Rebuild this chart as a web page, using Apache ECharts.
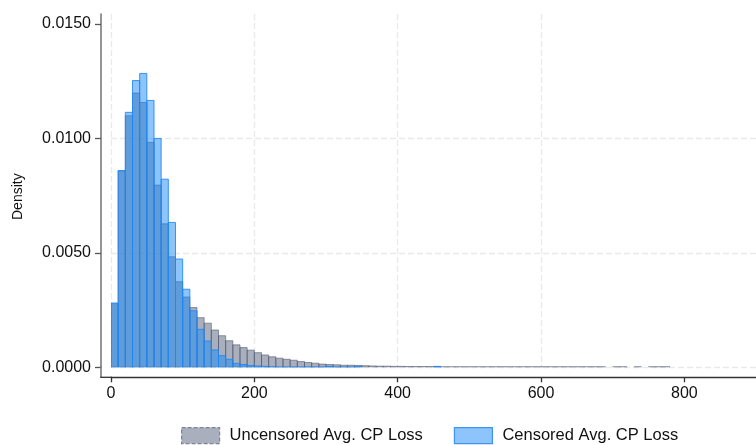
<!DOCTYPE html>
<html>
<head>
<meta charset="utf-8">
<script src="https://cdn.jsdelivr.net/npm/echarts@6/dist/echarts.min.js"></script>
<style>
html,body{margin:0;padding:0;background:#fff;}
#chart{width:756px;height:445px;}
</style>
</head>
<body>
<div id="chart"></div>
<script>
// ---- data ----
const binWidth = 10;
const binStarts = [
  0,10,20,30,40,50,60,70,80,90,100,110,120,130,140,150,160,170,180,190,
  200,210,220,230,240,250,260,270,280,290,300,310,320,330,340,350,360,370,380,390,
  400,410,420,430,440,450,460,470,480,490,500,510,520,530,540,550,560,570,580,590,
  600,610,620,630,640,650,660,670,680,690,700,710,720,730,740,750,760,770
];
const uncensored = [
  0.00278,0.00858,0.01099,0.01198,0.01157,0.00983,0.00796,0.00627,0.00483,0.00374,
  0.00307,0.00261,0.00217,0.00193,0.00163,0.00138,0.00116,0.00098,0.00086,0.00075,
  0.00064,0.00054,0.00046,0.00040,0.00035,0.00031,0.00025,0.00021,0.00018,0.00014,
  0.00012,0.00011,0.00009,0.00009,0.00008,0.00007,0.00006,0.00005,0.00005,0.00004,
  0.00004,0.00003,0.00003,0.00003,0.00003,0.00003,0.00002,0.00002,0.00002,0.00002,
  0.00002,0.00002,0.00002,0.00002,0.00002,0.00002,0.00002,0.00002,0.00002,0.00002,
  0.00002,0.00002,0.00002,0.00002,0.00002,0.00002,0.00002,0.00002,0.00002,0,
  0.00002,0.00002,0,0.00002,0,0.00002,0.00002,0.00002
];
const censored = [
  0.00281,0.00860,0.01114,0.01253,0.01284,0.01166,0.01000,0.00822,0.00633,0.00473,
  0.00341,0.00247,0.00166,0.00115,0.00076,0.00051,0.00035,0.00017,0.00012,0.00008,
  0.00006,0.00004,0.00002,0.00001,0.00001,0.00001,0.00001,0.00001,0.00001,0.00001,
  0.00004,0.00001,0.00001,0.00001,0.00004,0,0,0,0,0,
  0,0,0,0,0,0.00004,0,0,0,0,
  0,0,0,0,0,0,0,0,0,0,
  0,0,0,0,0,0,0,0,0,0,
  0,0,0,0,0,0,0,0
];
const xTicks = [0, 200, 400, 600, 800];
const yTicks = [0, 0.005, 0.010, 0.015];
const seriesNames = ['Uncensored Avg. CP Loss', 'Censored Avg. CP Loss'];

// ---- styles ----
const FONT = '"Liberation Sans", Arial, Helvetica, sans-serif';
const grayFill = 'rgba(83,95,123,0.5)';
const grayBorder = 'rgba(70,80,105,0.55)';
const blueFill = 'rgba(25,137,247,0.5)';
const blueBorder = 'rgba(30,135,245,0.85)';

function makeData(vals) {
  return binStarts.map((s, i) => [s, vals[i]]);
}
function histRender(fill, stroke) {
  return function (params, api) {
    const x0 = api.value(0), y = api.value(1);
    if (!y) return;
    const pTop = api.coord([x0, y]);
    const pBot = api.coord([x0 + binWidth, 0]);
    return {
      type: 'rect',
      shape: { x: pTop[0], y: pTop[1], width: pBot[0] - pTop[0], height: pBot[1] - pTop[1] },
      style: { fill: fill, stroke: stroke, lineWidth: 1 }
    };
  };
}

const chart = echarts.init(document.getElementById('chart'), null, { renderer: 'canvas' });
const gridLine = { show: true, showMaxLine: false, lineStyle: { color: '#e9e9e9', width: 1.3, type: [6, 3] } };

chart.setOption({
  animation: false,
  backgroundColor: '#fff',
  grid: { left: 111, right: 0, top: 14, bottom: 77.7, containLabel: false },
  xAxis: {
    type: 'value', min: 0, max: 900, interval: 200, offset: 10,
    axisLine: { show: true, onZero: false, lineStyle: { color: '#333', width: 1.3 } },
    axisTick: { show: true, length: 5, lineStyle: { color: '#333', width: 1.3 }, customValues: xTicks },
    axisLabel: { color: '#111', fontSize: 16, fontFamily: FONT, margin: 8, customValues: xTicks },
    splitLine: gridLine
  },
  yAxis: {
    type: 'value', min: 0, max: 0.015437, interval: 0.005, offset: 10,
    name: 'Density', nameLocation: 'middle', nameGap: 76,
    nameTextStyle: { color: '#111', fontSize: 14, fontFamily: FONT, padding: [0, 12, 0, 0] },
    axisLine: { show: true, onZero: false, lineStyle: { color: '#7a7a7a', width: 1.6 } },
    axisTick: { show: true, length: 6, lineStyle: { color: '#555', width: 1.3 }, customValues: yTicks },
    axisLabel: { color: '#111', fontSize: 16, fontFamily: FONT, margin: 10,
      customValues: yTicks, formatter: v => v.toFixed(4) },
    splitLine: gridLine
  },
  legend: {
    left: 181, top: 427, padding: 0, itemWidth: 38, itemHeight: 16, itemGap: 31,
    icon: 'rect',
    textStyle: { color: '#111', fontSize: 16.5, fontFamily: FONT, padding: [0, 0, 0, 5] },
    data: [
      { name: seriesNames[0], itemStyle: { color: grayFill, borderColor: '#7d8496', borderWidth: 1.2, borderType: [4, 2] } },
      { name: seriesNames[1], itemStyle: { color: blueFill, borderColor: '#3d94f2', borderWidth: 1.2 } }
    ]
  },
  series: [
    {
      name: seriesNames[0], type: 'custom', clip: true,
      itemStyle: { color: grayFill, borderColor: grayBorder },
      renderItem: histRender(grayFill, grayBorder),
      encode: { x: 0, y: 1 },
      data: makeData(uncensored)
    },
    {
      name: seriesNames[1], type: 'custom', clip: true,
      itemStyle: { color: blueFill, borderColor: blueBorder },
      renderItem: histRender(blueFill, blueBorder),
      encode: { x: 0, y: 1 },
      data: makeData(censored)
    }
  ]
});

// close the corner between the offset axes
const p00 = chart.convertToPixel({ gridIndex: 0 }, [0, 0]);
chart.setOption({
  graphic: [
    { type: 'line', shape: { x1: p00[0] - 10, y1: p00[1] - 1, x2: p00[0] - 10, y2: p00[1] + 10 },
      style: { stroke: '#7a7a7a', lineWidth: 1.6 }, z: 50 },
    { type: 'line', shape: { x1: p00[0] - 10.8, y1: p00[1] + 10, x2: p00[0] + 1, y2: p00[1] + 10 },
      style: { stroke: '#333', lineWidth: 1.3 }, z: 50 }
  ]
});
</script>
</body>
</html>
